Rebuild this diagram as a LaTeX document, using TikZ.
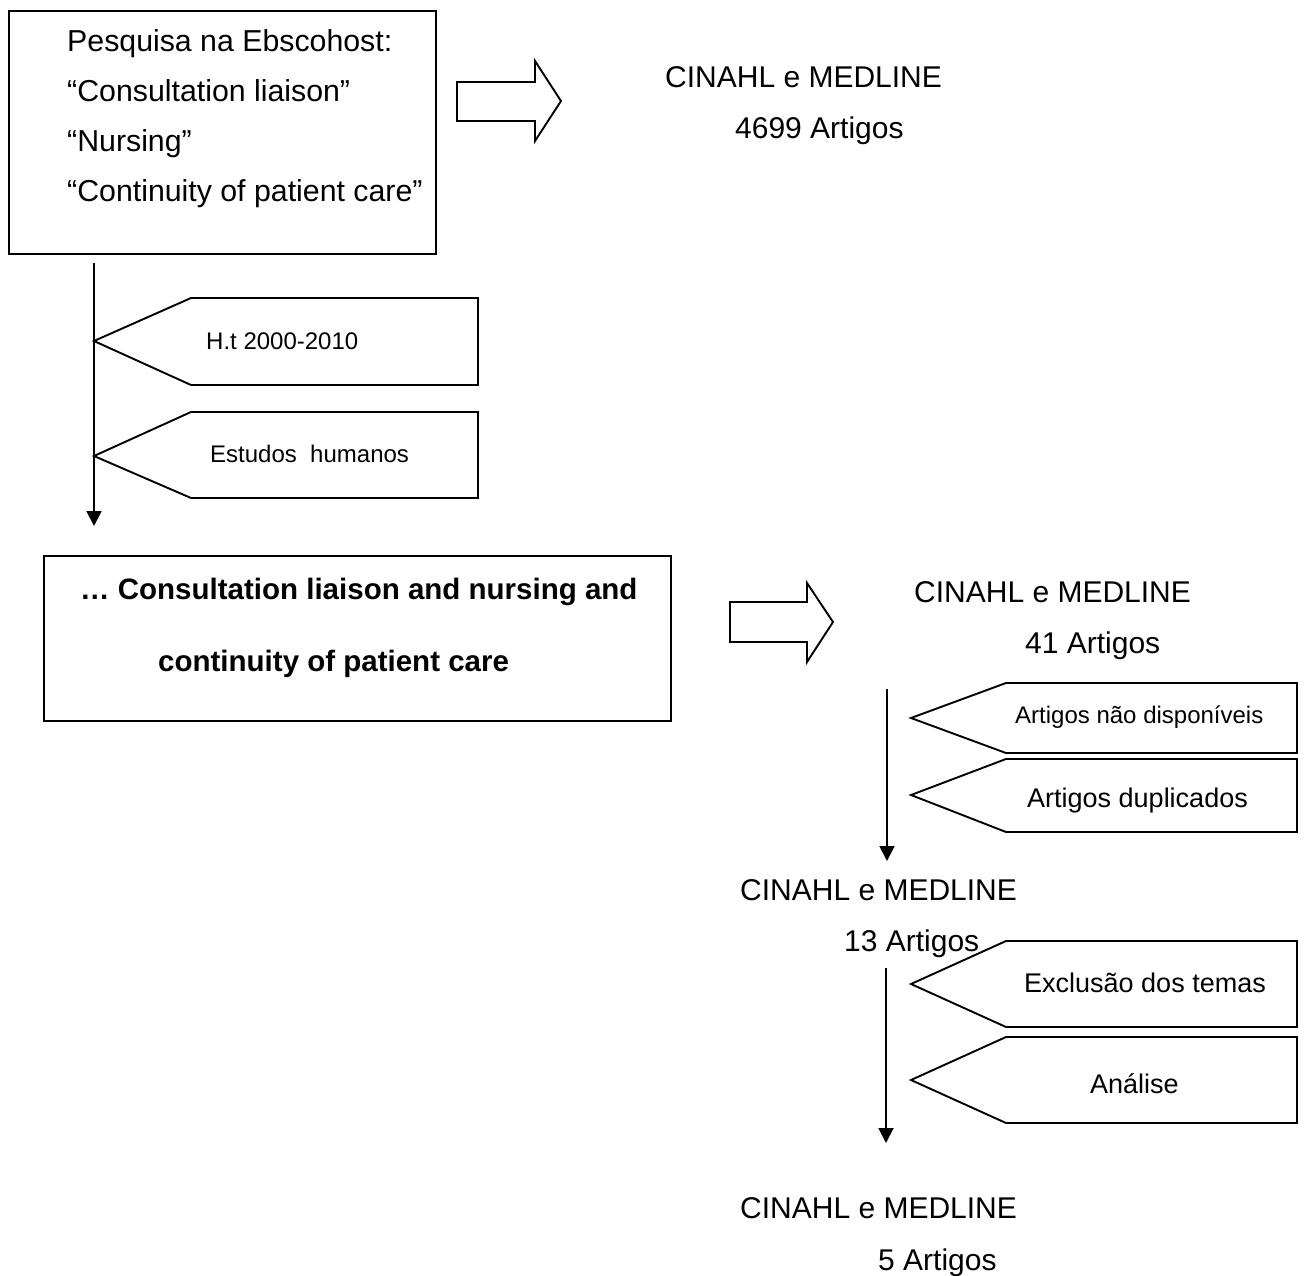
\documentclass[tikz,border=0pt]{standalone}
\usepackage{fontspec}
\setmainfont{Liberation Sans}
\usetikzlibrary{arrows.meta}
\tikzset{
  shp/.style={draw=black, line width=1.9pt, line join=miter},
  flow/.style={draw=black, line width=1.9pt, -{Triangle[width=15pt,length=15pt]}},
  txt/.style={anchor=base west, inner sep=0pt, font=\fontsize{30}{36}\selectfont},
  big/.style={anchor=base west, inner sep=0pt, font=\fontsize{30.3}{36}\selectfont},
  txtb/.style={anchor=base west, inner sep=0pt, font=\fontsize{29.5}{35}\selectfont\bfseries},
  small/.style={anchor=base west, inner sep=0pt, font=\fontsize{24}{29}\selectfont},
  mid/.style={anchor=base west, inner sep=0pt, font=\fontsize{27}{32}\selectfont},
}
\begin{document}
\begin{tikzpicture}[x=1pt,y=-1pt]
\useasboundingbox (0,0) rectangle (1304,1276);
% box 1
\node[shp, anchor=north west, minimum width=427pt, minimum height=243pt, inner sep=0pt] (box1) at (8,10) {};
\node[big] (t1) at (67,52) {Pesquisa na Ebscohost:};
\node[big] (t2) at (67,102) {“Consultation liaison”};
\node[big] (t3) at (67,152) {“Nursing”};
\node[big] (t4) at (67,202) {“Continuity of patient care”};
% arrow 1
\draw[shp] (457,82) -- (535,82) -- (535,61) -- (561,101) -- (535,141) -- (535,121) -- (457,121) -- cycle;
\node[txt] (c1) at (665,88) {CINAHL e MEDLINE};
\node[txt] (a1) at (735,139) {4699 Artigos};
% vertical flow 1
\coordinate (l1s) at (94,263);
\coordinate (l1e) at (94,526);
\draw[flow] (l1s) -- (l1e);
\draw[shp] (94,341) -- (191,298) -- (478,298) -- (478,385) -- (191,385) -- cycle;
\node[small] (p1) at (206,349) {H.t 2000-2010};
\draw[shp] (94,456) -- (191,412) -- (478,412) -- (478,498) -- (191,498) -- cycle;
\node[small] (p2) at (210,462) {Estudos\ \ humanos};
% box 2
\node[shp, anchor=north west, minimum width=627pt, minimum height=165pt, inner sep=0pt] (box2) at (43,555) {};
\node[txtb] (b1) at (80,599) {… Consultation liaison and nursing and};
\node[txtb] (b2) at (158,671) {continuity of patient care};
% arrow 2
\draw[shp] (730,602) -- (807,602) -- (807,583) -- (833,622) -- (807,662) -- (807,642) -- (730,642) -- cycle;
\node[txt] (c2) at (914,602) {CINAHL e MEDLINE};
\node[txt] (a2) at (1025,653) {41 Artigos};
% vertical flow 2
\coordinate (l2s) at (887,689);
\coordinate (l2e) at (887,861);
\draw[flow] (l2s) -- (l2e);
\draw[shp] (911,718) -- (1006,683) -- (1297,683) -- (1297,753) -- (1006,753) -- cycle;
\node[small] (p3) at (1015,723) {Artigos não disponíveis};
\draw[shp] (911,795) -- (1006,759) -- (1297,759) -- (1297,832) -- (1006,832) -- cycle;
\node[mid] (p4) at (1027,807) {Artigos duplicados};
\node[txt] (c3) at (740,900) {CINAHL e MEDLINE};
\node[txt] (a3) at (844,951) {13 Artigos};
% vertical flow 3
\coordinate (l3s) at (886,968);
\coordinate (l3e) at (886,1143);
\draw[flow] (l3s) -- (l3e);
\draw[shp] (911,984) -- (1006,941) -- (1297,941) -- (1297,1027) -- (1006,1027) -- cycle;
\node[mid] (p5) at (1024,992) {Exclusão dos temas};
\draw[shp] (911,1080) -- (1006,1037) -- (1297,1037) -- (1297,1123) -- (1006,1123) -- cycle;
\node[mid] (p6) at (1090,1093) {Análise};
\node[txt] (c4) at (740,1218) {CINAHL e MEDLINE};
\node[txt] (a4) at (878,1270) {5 Artigos};
\end{tikzpicture}
\end{document}
